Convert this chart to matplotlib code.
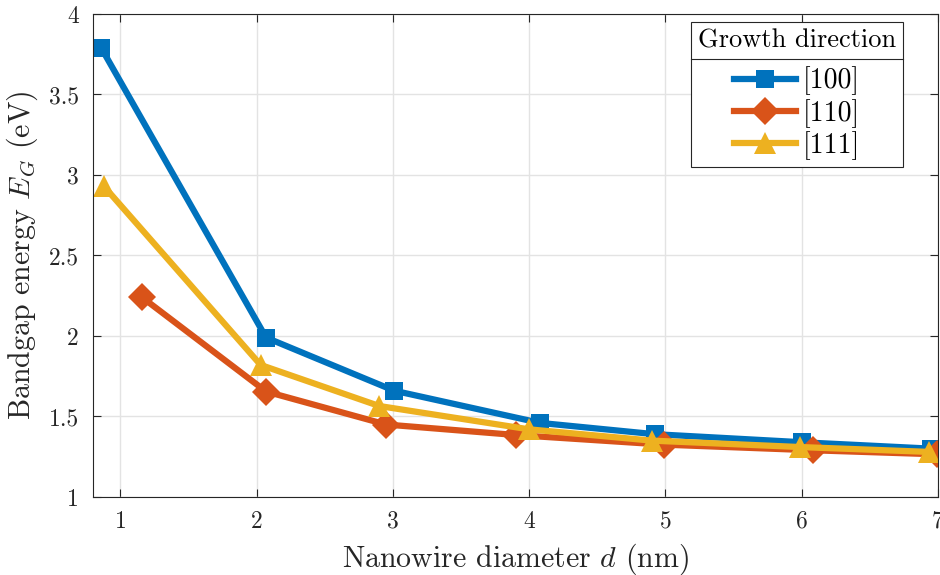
import numpy as np
import matplotlib
matplotlib.use('Agg')
import matplotlib.pyplot as plt
from matplotlib.lines import Line2D

plt.rcParams['font.family'] = 'cmr10'
plt.rcParams['mathtext.fontset'] = 'cm'
plt.rcParams['axes.formatter.use_mathtext'] = True

# данные
labels = ['[100]', '[110]', '[111]']
d_100 = [0.86, 2.07, 3.01, 4.08, 4.92, 6.00, 6.95]
eg_100 = [3.79, 1.99, 1.66, 1.46, 1.39, 1.34, 1.30]
d_110 = [1.16, 2.07, 2.95, 3.90, 4.99, 6.08, 6.99]
eg_110 = [2.24, 1.655, 1.45, 1.385, 1.325, 1.29, 1.265]
d_111 = [0.88, 2.03, 2.90, 4.00, 4.90, 5.99, 6.93]
eg_111 = [2.93, 1.82, 1.565, 1.42, 1.35, 1.31, 1.28]

colors = ['#0072BD', '#D95319', '#EDB120']
markers = ['s', 'D', '^']
msizes = [13.5, 14, 15.5]

fig = plt.figure(figsize=(9.4, 5.75), dpi=100)
ax = fig.add_axes([0.0989, 0.1357, 0.8991, 0.84])

for x, y, c, m, ms, lab in zip([d_100, d_110, d_111], [eg_100, eg_110, eg_111],
                               colors, markers, msizes, labels):
    ax.plot(x, y, color=c, marker=m, markersize=ms, linewidth=4.5, label=lab,
            markeredgewidth=0)

ax.set_xlim(0.8, 7)
ax.set_ylim(1, 4)
ax.set_xticks(np.arange(1, 8))
ax.set_yticks(np.arange(1, 4.01, 0.5))
ax.set_yticklabels(['1', '1.5', '2', '2.5', '3', '3.5', '4'])
ax.grid(True, color='#e3e3e3', linewidth=1)
ax.set_axisbelow(True)
ax.tick_params(direction='in', length=6, width=0.8, colors='#262626',
               labelsize=17, top=True, right=True, pad=10)
for s in ax.spines.values():
    s.set_color('#262626')
    s.set_linewidth(0.8)

ax.set_xlabel('Nanowire diameter $d$ (nm)', fontsize=21.5, color='#262626', labelpad=6)
ax.set_ylabel('Bandgap energy $E_G$ (eV)', fontsize=21.5, color='#262626', labelpad=6)

leg = ax.legend(title='Growth direction', loc='upper right',
                bbox_to_anchor=(0.9586, 0.9834), borderaxespad=0,
                fontsize=20, title_fontsize=19, fancybox=False, framealpha=1,
                edgecolor='#262626', handlelength=2.2, handletextpad=0.25,
                labelspacing=0.12, borderpad=0.25)
leg.get_frame().set_linewidth(0.8)
leg._legend_box.sep = 10

# линия под заголовком легенды
fig.canvas.draw()
fb = leg.get_frame().get_window_extent()
tb = leg.get_title().get_window_extent()
eb = leg.get_texts()[0].get_window_extent()
yline = (tb.y0 + eb.y1) / 2 + 1
inv = fig.transFigure.inverted()
p0 = inv.transform((fb.x0, yline))
p1 = inv.transform((fb.x1, yline))
fig.add_artist(Line2D([p0[0], p1[0]], [p0[1], p1[1]], color='#262626',
                      linewidth=0.8, transform=fig.transFigure))

fig.savefig('out.png', dpi=100)
